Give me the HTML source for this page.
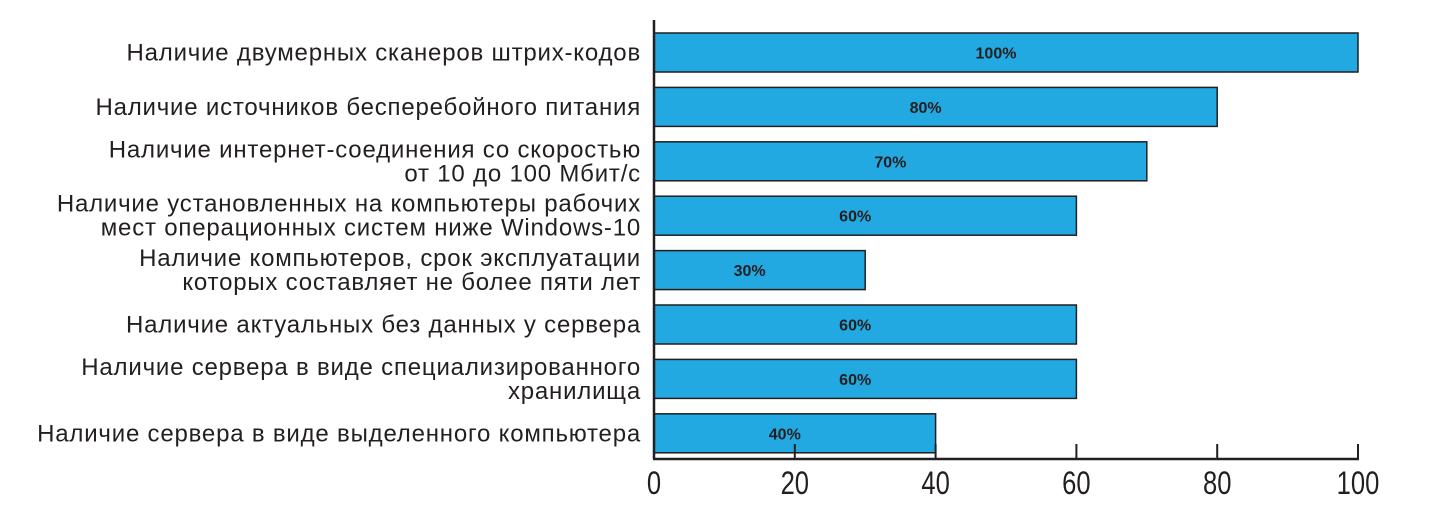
<!DOCTYPE html>
<html><head><meta charset="utf-8"><style>
body{margin:0;background:#fff;width:1438px;height:514px;overflow:hidden}
svg{display:block}
.lbl{font-family:"Liberation Sans","DejaVu Sans",sans-serif;font-size:24px;letter-spacing:0.8px;fill:#231f20}
.val{font-family:"Liberation Sans",sans-serif;font-size:16px;font-weight:bold;fill:#231f20}
.tick{font-family:"Liberation Sans",sans-serif;font-size:32px;fill:#231f20}
</style></head><body>
<svg id="chart" width="1438" height="514"></svg>
<script>
const categories=[
 ["Наличие двумерных сканеров штрих-кодов"],
 ["Наличие источников бесперебойного питания"],
 ["Наличие интернет-соединения со скоростью","от 10 до 100 Мбит/с"],
 ["Наличие установленных на компьютеры рабочих","мест операционных систем ниже Windows-10"],
 ["Наличие компьютеров, срок эксплуатации","которых составляет не более пяти лет"],
 ["Наличие актуальных без данных у сервера"],
 ["Наличие сервера в виде специализированного","хранилища"],
 ["Наличие сервера в виде выделенного компьютера"]
];
const values=[100,80,70,60,30,60,60,40];
const valueLabels=["100%","80%","70%","60%","30%","60%","60%","40%"];
const ticks=[0,20,40,60,80,100];
const NS="http://www.w3.org/2000/svg";
const svg=document.getElementById('chart');
const x0=654,x1=1358,top0=33,pitch=54.4,bh=39,axisY=459;
const xs=v=>x0+(x1-x0)*v/100;
function mk(t,a){const e=document.createElementNS(NS,t);for(const k in a)e.setAttribute(k,a[k]);svg.appendChild(e);return e;}
values.forEach((v,i)=>{
 const y=top0+i*pitch;
 const r=mk('rect',{x:xs(0),y:y,width:xs(v)-xs(0),height:bh,fill:'#22a9e1',stroke:'#231f20','stroke-width':1.5});
 
 
 const t=mk('text',{x:(xs(0)+xs(v))/2-10,y:y+bh/2+6,'text-anchor':'middle',class:'val'});
 t.textContent=valueLabels[i];
 
 
 const lines=categories[i];
 const l=mk('text',{x:641,y:0,'text-anchor':'end',class:'lbl'});
 
 
 lines.forEach((s,j)=>{
  const ts=document.createElementNS(NS,'tspan');
  ts.setAttribute('x',641);
  const cy=y+bh/2+8+(j-(lines.length-1)/2)*24;
  ts.setAttribute('y',cy);
  ts.textContent=s;l.appendChild(ts);
 });
});
const ya=mk('line',{x1:x0,y1:20,x2:x0,y2:axisY,stroke:'#231f20','stroke-width':2.5});


const xa=mk('line',{x1:x0-1,y1:axisY,x2:x1+1,y2:axisY,stroke:'#231f20','stroke-width':2.5});


ticks.forEach(t=>{
 const tk=mk('line',{x1:xs(t),y1:axisY-15,x2:xs(t),y2:axisY,stroke:'#231f20','stroke-width':2});
 
 
 const tl=mk('text',{x:0,y:0,'text-anchor':'middle',class:'tick',transform:'translate('+xs(t)+',494) scale(0.8,1)'});
 tl.textContent=t;
 
 
});
</script>
</body></html>
